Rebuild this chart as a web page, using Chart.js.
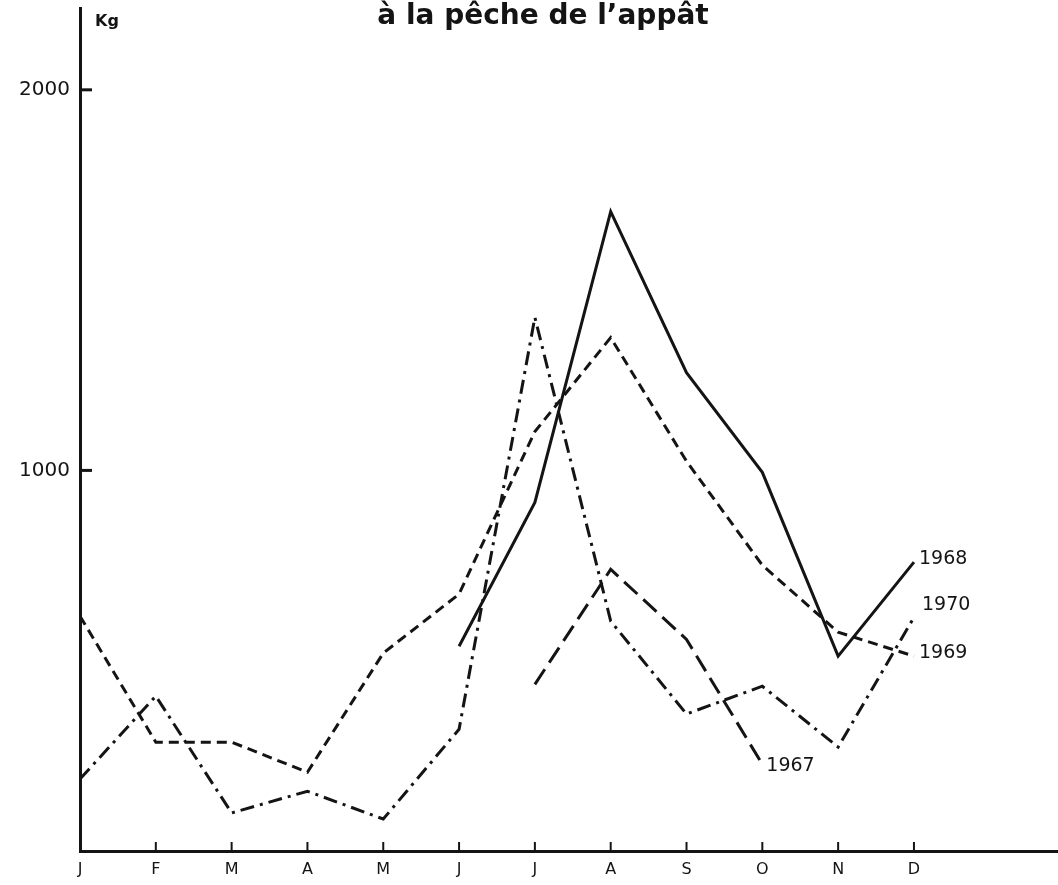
<!DOCTYPE html>
<html lang="fr">
<head>
<meta charset="UTF-8"/>
<title>à la pêche de l'appât</title>
<script src="https://cdn.jsdelivr.net/npm/chart.js"></script>
<style>
  body { margin: 0; background: #fff; }
  canvas { display: block; }
</style>
</head>
<body>
<canvas id="chart" width="1058" height="885"></canvas>
<script>
  // values, Kg per month
  const months = ['J','F','M','A','M','J','J','A','S','O','N','D'];
  const y1967 = [null,null,null,null,null,null,438,740,556,228,null,null];
  const y1968 = [null,null,null,null,null,538,916,1680,1257,995,512,759];
  const y1969 = [617,286,286,207,520,675,1102,1349,1024,751,575,512];
  const y1970 = [189,407,100,157,84,320,1402,604,360,433,273,614];
  const yTicks = [1000, 2000];
  const title = 'à la pêche de l\u2019appât';
  const ink = '#141414';
  const font = '"DejaVu Sans", sans-serif';

  function pts(arr) {
    return arr.map((v,i)=> v==null ? null : {x:i, y:v}).filter(Boolean);
  }

  function line(label, arr, dash, lab) {
    return {
      label: label,
      data: pts(arr),
      borderColor: ink,
      borderWidth: 3,
      borderDash: dash,
      borderCapStyle: 'butt',
      pointRadius: 0,
      tension: 0,
      fill: false,
      lab: lab   // offset of the year label from the last point
    };
  }

  // ticks inside the axes, title, unit and the year labels
  const decor = {
    id: 'decor',
    afterDraw(chart) {
      const ctx = chart.ctx, xs = chart.scales.x, ys = chart.scales.y;
      const a = chart.chartArea;
      ctx.save();
      ctx.strokeStyle = ink;
      ctx.lineWidth = 3;
      yTicks.forEach(v=>{
        const y = ys.getPixelForValue(v);
        ctx.beginPath(); ctx.moveTo(a.left, y); ctx.lineTo(a.left+12, y); ctx.stroke();
      });
      ctx.lineWidth = 2;
      months.forEach((m,i)=>{
        if (i===0) return;
        const x = xs.getPixelForValue(i);
        ctx.beginPath(); ctx.moveTo(x, a.bottom); ctx.lineTo(x, a.bottom-9); ctx.stroke();
      });

      ctx.fillStyle = ink;
      ctx.textAlign = 'center';
      ctx.textBaseline = 'alphabetic';
      ctx.font = 'bold 28px ' + font;
      ctx.fillText(title, 543, 24);
      ctx.textAlign = 'left';
      ctx.font = 'bold 16px ' + font;
      ctx.fillText('Kg', 95, 26);

      ctx.font = '19px ' + font;
      ctx.textBaseline = 'middle';
      chart.data.datasets.forEach(ds=>{
        const p = ds.data[ds.data.length-1];
        const x = xs.getPixelForValue(p.x), y = ys.getPixelForValue(p.y);
        ctx.fillText(ds.label, x + ds.lab[0], y + ds.lab[1]);
      });
      ctx.restore();
    }
  };

  const ctx = document.getElementById('chart').getContext('2d');
  new Chart(ctx, {
    type: 'line',
    data: {
      datasets: [
        line('1968', y1968, [], [5, -3]),
        line('1969', y1969, [10, 6], [5, -3]),
        line('1970', y1970, [14, 6, 3, 6], [8, -12]),
        line('1967', y1967, [18, 8], [4, 2])
      ]
    },
    options: {
      responsive: false,
      animation: false,
      layout: { padding: { top: 8, left: 0, right: 0, bottom: 0 } },
      plugins: { legend: { display: false }, tooltip: { enabled: false } },
      scales: {
        x: {
          type: 'linear', min: 0, max: 12.9,
          afterBuildTicks: s => { s.ticks = months.map((m,i)=>({value:i})); },
          afterFit: s => { s.height = 34; s.paddingLeft = 0; s.paddingRight = 0; },
          ticks: {
            callback: v => months[v],
            autoSkip: false, maxRotation: 0, padding: 9,
            color: ink, font: { family: font, size: 16 }
          },
          grid: { display: false, drawTicks: false },
          border: { display: true, color: ink, width: 3 }
        },
        y: {
          min: 0, max: 2215,
          afterBuildTicks: s => { s.ticks = yTicks.map(v=>({value:v})); },
          afterFit: s => { s.width = 80; s.paddingTop = 0; s.paddingBottom = 0; },
          ticks: {
            callback: v => String(v),
            padding: 10, color: ink,
            font: { family: font, size: 20 }
          },
          grid: { display: false, drawTicks: false },
          border: { display: true, color: ink, width: 3 }
        }
      }
    },
    plugins: [decor]
  });
</script>
</body>
</html>
